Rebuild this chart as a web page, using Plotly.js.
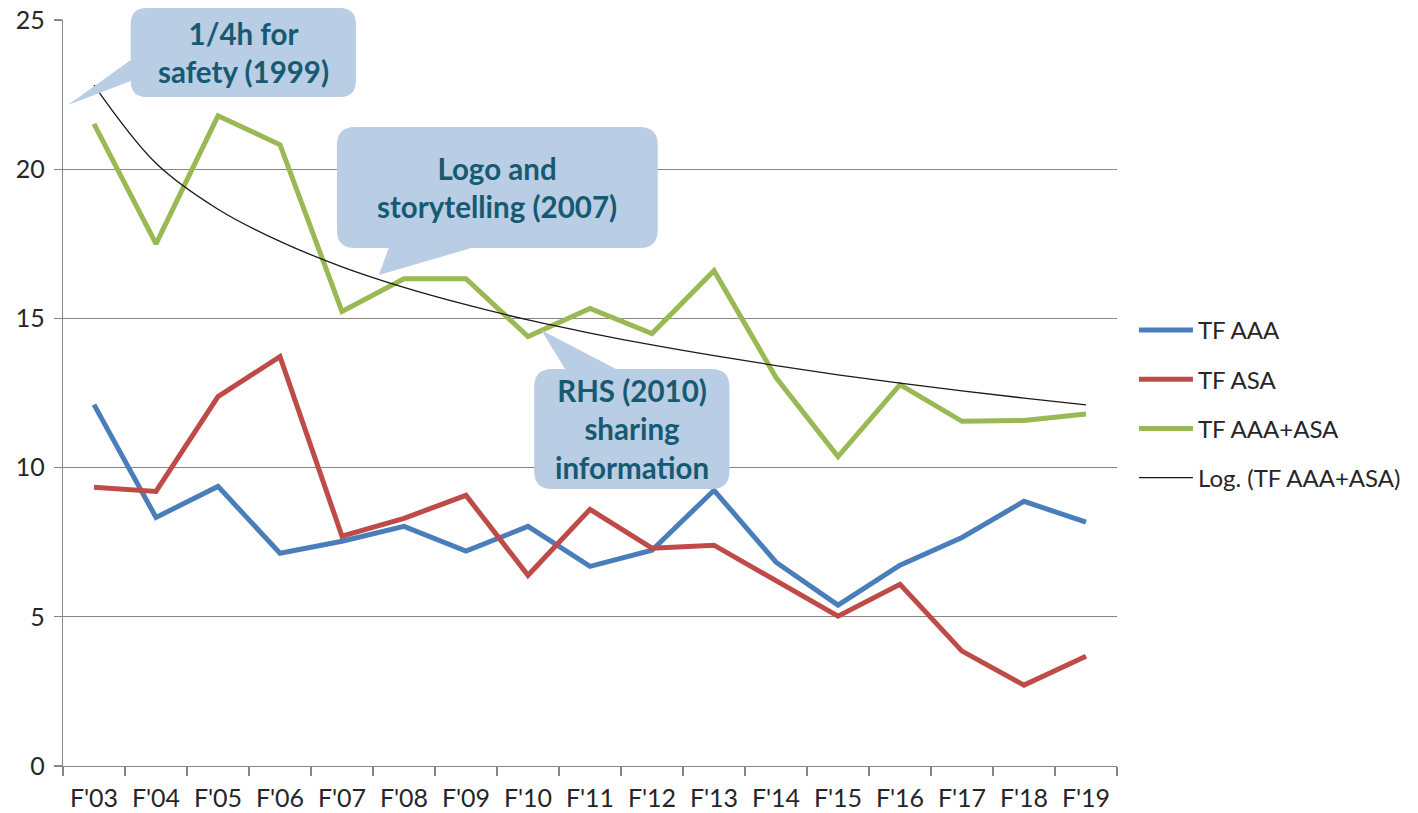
<!DOCTYPE html>
<html><head><meta charset="utf-8">
<script src="https://cdn.plot.ly/plotly-3.0.1.min.js"></script>
<style>html,body{margin:0;padding:0;background:#fff}#chart{width:1418px;height:813px}</style>
</head><body><div id="chart"></div>
<script>
const categories = ["F'03","F'04","F'05","F'06","F'07","F'08","F'09","F'10","F'11","F'12","F'13","F'14","F'15","F'16","F'17","F'18","F'19"];
const tfAAA    = [12.11, 8.33, 9.37, 7.13, 7.53, 8.03, 7.20, 8.03, 6.69, 7.23, 9.24, 6.83, 5.39, 6.73, 7.66, 8.87, 8.17];
const tfASA    = [9.34, 9.20, 12.38, 13.72, 7.70, 8.30, 9.07, 6.39, 8.60, 7.30, 7.40, 6.19, 5.02, 6.09, 3.85, 2.71, 3.68];
const tfAAAASA = [21.52, 17.50, 21.79, 20.82, 15.23, 16.33, 16.33, 14.39, 15.33, 14.49, 16.60, 13.02, 10.37, 12.78, 11.55, 11.58, 11.80];
const logTrend = [22.82, 20.20, 18.66, 17.58, 16.73, 16.04, 15.46, 14.95, 14.51, 14.11, 13.75, 13.42, 13.11, 12.83, 12.57, 12.33, 12.10];
const seriesNames = ["TF AAA", "TF ASA", "TF AAA+ASA", "Log. (TF AAA+ASA)"];
const yTicks = [0, 5, 10, 15, 20, 25];
const calloutTexts = ["1/4h for<br>safety (1999)", "Logo and<br>storytelling (2007)", "RHS (2010)<br>sharing<br>information"];

// layout geometry (pixels)
const W = 1418, H = 813;
const M = {l: 63, r: 297, t: 20, b: 47};
const PW = W - M.l - M.r, PH = H - M.t - M.b;
const px = x => (x - M.l) / PW;
const py = y => (H - M.b - y) / PH;
const pt = (x, y) => px(x).toFixed(5) + ',' + py(y).toFixed(5);

function calloutPath(x0, y0, x1, y1, r, tail) {
  let d = 'M' + pt(x0 + r, y0);
  if (tail.side === 'top') d += ' L' + pt(tail.a, y0) + ' L' + pt(tail.tx, tail.ty) + ' L' + pt(tail.b, y0);
  d += ' L' + pt(x1 - r, y0) + ' Q' + pt(x1, y0) + ' ' + pt(x1, y0 + r);
  d += ' L' + pt(x1, y1 - r) + ' Q' + pt(x1, y1) + ' ' + pt(x1 - r, y1);
  if (tail.side === 'bottom') d += ' L' + pt(tail.b, y1) + ' L' + pt(tail.tx, tail.ty) + ' L' + pt(tail.a, y1);
  d += ' L' + pt(x0 + r, y1) + ' Q' + pt(x0, y1) + ' ' + pt(x0, y1 - r);
  if (tail.side === 'left') d += ' L' + pt(x0, tail.b) + ' L' + pt(tail.tx, tail.ty) + ' L' + pt(x0, tail.a);
  d += ' L' + pt(x0, y0 + r) + ' Q' + pt(x0, y0) + ' ' + pt(x0 + r, y0) + ' Z';
  return d;
}

const boxes = [
  {x0: 131, y0: 8, x1: 357, y1: 97, r: 16, tail: {side: 'left', a: 60, b: 81, tx: 68, ty: 105}},
  {x0: 338, y0: 127, x1: 660, y1: 248, r: 18, tail: {side: 'bottom', a: 390, b: 473, tx: 380, ty: 275}},
  {x0: 536, y0: 369, x1: 732, y1: 489, r: 18, tail: {side: 'top', a: 567, b: 618, tx: 543, ty: 330}}
];

const FONT = 'Lato, "Open Sans", sans-serif';
const gray = '#868686';
const txt = '#262626';

const traces = [
  {x: categories, y: tfAAA, name: seriesNames[0], legendgroup: 'a', line: {color: '#4A7EBB', width: 5}},
  {x: categories, y: tfASA, name: seriesNames[1], legendgroup: 'b', line: {color: '#BE4B48', width: 5}},
  {x: categories, y: tfAAAASA, name: seriesNames[2], legendgroup: 'c', line: {color: '#98B954', width: 5}},
  {x: categories, y: logTrend, name: seriesNames[3], legendgroup: 'd', line: {color: '#1a1a1a', width: 1.3, shape: 'spline'}}
].map(t => Object.assign({type: 'scatter', mode: 'lines', hoverinfo: 'skip'}, t));

const shapes = boxes.map(b => ({
  type: 'path', xref: 'paper', yref: 'paper', layer: 'above',
  path: calloutPath(b.x0, b.y0, b.x1, b.y1, b.r, b.tail),
  fillcolor: '#B9CDE5', line: {width: 0}
}));

const annotations = boxes.map((b, i) => ({
  xref: 'paper', yref: 'paper', x: px((b.x0 + b.x1) / 2), y: py((b.y0 + b.y1) / 2),
  xanchor: 'center', yanchor: 'middle', showarrow: false,
  text: '<b>' + calloutTexts[i] + '</b>',
  font: {family: FONT, size: 29.5, color: '#165A72'}
}));

const layout = {
  width: W, height: H,
  margin: M,
  paper_bgcolor: '#fff', plot_bgcolor: '#fff',
  font: {family: FONT, size: 24, color: txt},
  showlegend: true,
  legend: {
    x: px(1138), xanchor: 'left', y: py(308), yanchor: 'top',
    font: {family: FONT, size: 24, color: txt},
    itemwidth: 54, tracegroupgap: 15, bgcolor: 'rgba(0,0,0,0)'
  },
  xaxis: {
    type: 'category', range: [-0.5, categories.length - 0.5], tickson: 'boundaries', ticks: 'outside', ticklen: 9, tickcolor: gray, tickwidth: 1.3,
    showline: true, linecolor: gray, linewidth: 1.3, showgrid: false, zeroline: false,
    tickfont: {family: FONT, size: 25, color: txt}, ticklabelstandoff: 10, fixedrange: true
  },
  yaxis: {
    range: [0, 25], tickvals: yTicks, ticks: 'outside', ticklen: 8, tickcolor: gray, tickwidth: 1.3,
    showline: true, linecolor: gray, linewidth: 1.3, showgrid: true, gridcolor: gray, gridwidth: 1.3,
    zeroline: false, tickfont: {family: FONT, size: 25, color: txt}, ticklabelstandoff: 4, fixedrange: true
  },
  shapes: shapes,
  annotations: annotations
};

Plotly.newPlot('chart', traces, layout, {displayModeBar: false, staticPlot: true});
</script>
</body></html>
